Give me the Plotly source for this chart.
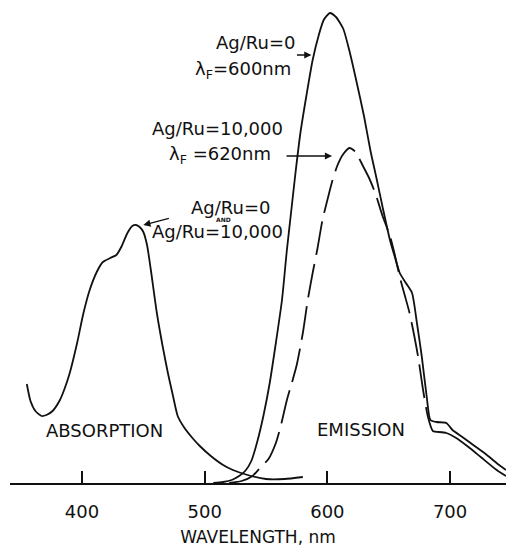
import plotly.graph_objects as go

# ---- data (wavelength in nm, intensity in arbitrary units) ----
abs_wl = [355, 358, 362, 367, 371, 376, 382, 386, 390, 396, 401, 406, 412, 417, 423, 428,
          432, 437, 441, 444, 447, 450, 453, 456, 461, 466, 470, 474, 478, 483, 490, 496,
          505, 515, 523, 535, 550, 565, 580]
abs_int = [99, 82, 72, 67, 68, 72, 83, 95, 110, 140, 169, 192, 211, 221, 225, 228,
           236, 250, 257, 258, 256, 251, 238, 214, 170, 135, 110, 88, 67, 56, 45, 37,
           27, 18, 13, 8, 4, 4, 6]

em0_wl = [507, 515, 522, 528, 533, 538, 543, 548, 553, 558, 563, 567, 570, 574, 578, 583,
          588, 593, 597, 602, 607, 613, 618, 624, 630, 635, 640, 645, 651, 655, 659, 664,
          669, 673, 677, 681, 684, 689, 697, 702, 710, 720, 730, 740, 745.6]
em0_int = [0, 1, 3, 7, 12, 22, 42, 68, 100, 140, 183, 233, 266, 310, 350, 388,
           423, 448, 463, 470, 466, 454, 432, 400, 366, 333, 305, 276, 243, 226, 210, 200,
           190, 160, 126, 86, 63, 61, 60, 53, 46, 37, 28, 18, 13]

em1_wl = [520, 530, 539, 545, 552, 558, 562, 567, 571, 575, 580, 584, 588, 592, 596, 600,
          604, 608, 613, 618, 623, 629, 634, 639, 645, 651, 655, 659, 663, 667, 671, 674,
          678, 682, 686, 691, 697, 705, 715, 725, 738, 745.6]
em1_int = [0, 2, 7, 15, 24, 40, 57, 83, 100, 118, 150, 183, 210, 235, 263, 283,
           302, 317, 329, 335, 331, 317, 305, 290, 267, 247, 228, 206, 188, 170, 146, 126,
           93, 66, 52, 51, 50, 45, 36, 26, 13, 7]
dash_end = 35  # index in em1 where the dashed stroke becomes continuous

tick_vals = [400, 500, 600, 700]
tick_text = ["400", "500", "600", "700"]

FONT = "DejaVu Sans"
INK = "#111111"
LW = 1.8

fig = go.Figure()
fig.add_trace(go.Scatter(x=abs_wl, y=abs_int, mode="lines",
                         line=dict(color=INK, width=LW, shape="spline", smoothing=0.6)))
fig.add_trace(go.Scatter(x=em0_wl, y=em0_int, mode="lines",
                         line=dict(color=INK, width=LW, shape="spline", smoothing=0.6)))
fig.add_trace(go.Scatter(x=em1_wl[:dash_end + 1], y=em1_int[:dash_end + 1], mode="lines",
                         line=dict(color=INK, width=LW, dash="34px,9px",
                                   shape="spline", smoothing=0.6)))
fig.add_trace(go.Scatter(x=em1_wl[dash_end:], y=em1_int[dash_end:], mode="lines",
                         line=dict(color=INK, width=LW, shape="spline", smoothing=0.6)))

txt = dict(family=FONT, size=18, color=INK)
ann = []
def label(x, y, s, anchor="right", font=txt):
    ann.append(dict(x=x, y=y, xref="x", yref="y", text=s, showarrow=False,
                    xanchor=anchor, yanchor="middle", font=font))

label(575.3, 441, "Ag/Ru=0")
label(572, 413, "λ<sub>F</sub>=600nm")
label(565.5, 355, "Ag/Ru=10,000")
label(555.7, 328, "λ<sub>F</sub> =620nm")
label(554.9, 276, "Ag/Ru=0")
label(515, 263.5, "<b>AND</b>", anchor="center", font=dict(family=FONT, size=6, color=INK))
label(565.5, 252, "Ag/Ru=10,000")
label(418.7, 53, "ABSORPTION", anchor="center")
label(627.4, 54, "EMISSION", anchor="center")

def arrow(x0, y0, x1, y1):
    ann.append(dict(x=x1, y=y1, ax=x0, ay=y0, xref="x", yref="y", axref="x", ayref="y",
                    text="", showarrow=True, arrowhead=2, arrowsize=1.1,
                    arrowwidth=1.3, arrowcolor=INK))

arrow(574, 428, 587, 428)
arrow(565.5, 327, 603.8, 327)
arrow(472, 265, 450, 258)

fig.update_layout(
    width=506, height=547,
    margin=dict(l=10, r=0, t=0, b=64),
    paper_bgcolor="white", plot_bgcolor="white",
    showlegend=False,
    annotations=ann,
    xaxis=dict(range=[341.3, 745.6], showgrid=False, zeroline=False,
               showline=True, linecolor=INK, linewidth=1.6,
               ticks="inside", ticklen=12, tickwidth=1.5, tickcolor=INK,
               tickvals=tick_vals, ticktext=tick_text,
               tickfont=dict(family=FONT, size=18, color=INK),
               ticklabelstandoff=12,
               title=dict(text="WAVELENGTH, nm", standoff=12,
                          font=dict(family=FONT, size=17, color=INK))),
    yaxis=dict(range=[0, 483], visible=False, showgrid=False, zeroline=False),
)

fig.write_html("out.html")
